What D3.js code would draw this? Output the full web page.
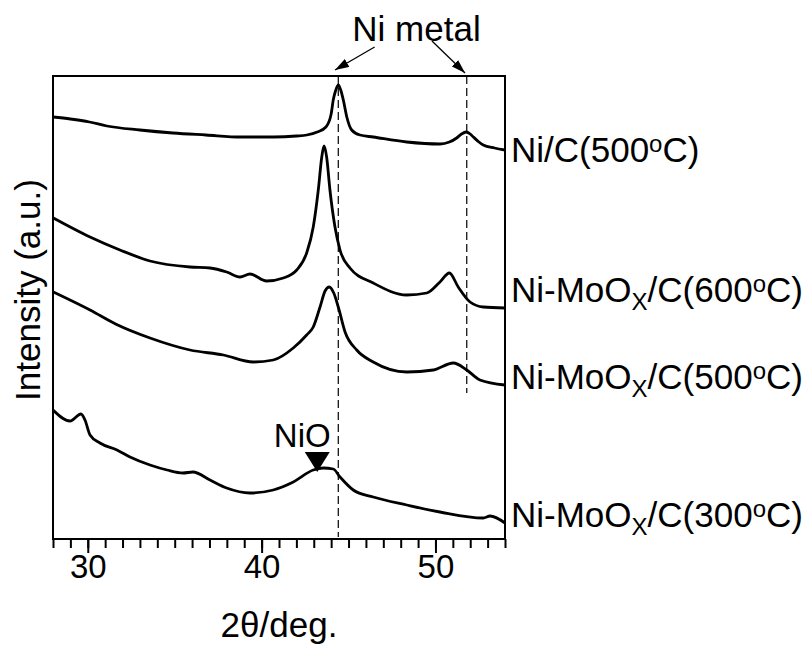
<!DOCTYPE html>
<html>
<head>
<meta charset="utf-8">
<script src="https://cdn.jsdelivr.net/npm/d3@7"></script>
<style>
  html, body { margin: 0; padding: 0; background: #fff; }
  svg { display: block; }
  text { font-family: "Liberation Sans", Arial, Helvetica, sans-serif; fill: #000; }
</style>
</head>
<body>
<svg id="chart" width="812" height="645"></svg>
<script>
// ---- data (2θ in degrees, intensity in arbitrary units) ----
const xDomain = [28, 54];
const yDomain = [0, 463];
const majorTicks = [30, 40, 50];
const minorTicks = d3.range(28, 55, 1);

const seriesNames = ["Ni/C(500°C)", "Ni-MoOX/C(600°C)", "Ni-MoOX/C(500°C)", "Ni-MoOX/C(300°C)"];

const niC500 = [
  [28.0, 422], [29.0, 420], [30.1, 417], [31.1, 413], [33.0, 409], [34.9, 406], [36.8, 404], [38.8, 402],
  [40.7, 402], [42.0, 403], [42.6, 404], [43.2, 407], [43.7, 412], [44.0, 425], [44.12, 439],
  [44.25, 448], [44.41, 454], [44.55, 449], [44.7, 439], [44.9, 422], [45.18, 409], [45.66, 404],
  [46.42, 402], [48.35, 397], [50.26, 395], [50.8, 397], [51.22, 401], [51.5, 405], [51.76, 407],
  [52.0, 405], [52.18, 402], [52.5, 397], [52.75, 394], [53.4, 391], [54.0, 389]
];
const niMo600 = [
  [28.02, 321], [30.13, 302], [31.85, 289], [33.58, 278], [35.88, 272], [37.03, 271], [37.99, 267],
  [38.76, 262], [39.33, 265], [40.29, 258], [41.25, 261], [42.02, 269], [42.59, 286], [42.97, 312],
  [43.26, 349], [43.46, 382], [43.59, 393], [43.74, 382], [43.93, 349], [44.22, 312], [44.51, 289],
  [45.08, 271], [46.42, 256], [48.35, 244], [49.5, 246], [50.26, 257], [50.8, 266], [51.31, 252],
  [51.99, 237], [52.75, 232], [54.0, 231]
];
const niMo500 = [
  [28.02, 247], [30.13, 229], [31.6, 215], [33.58, 201], [35.88, 189], [37.8, 184],
  [39.52, 177], [40.67, 179], [41.82, 191], [42.59, 204], [42.97, 212], [43.36, 232], [43.65, 248],
  [43.89, 252], [44.15, 246], [44.41, 232], [44.8, 207], [45.47, 189], [46.42, 177], [48.35, 167],
  [49.88, 169], [51.03, 176], [51.8, 169], [52.56, 159], [54.0, 154]
];
const niMo300 = [
  [28.0, 129], [28.98, 118], [29.61, 125], [29.84, 119], [30.13, 104], [30.7, 96], [31.68, 89],
  [32.43, 82], [33.58, 74], [34.56, 69], [35.48, 66], [36.05, 67], [37.03, 59], [37.99, 51],
  [39.33, 46], [40.67, 49], [41.82, 57], [42.97, 69], [43.55, 71], [44.12, 70], [44.51, 62],
  [45.27, 49], [46.42, 42], [48.35, 34], [50.26, 27], [52.75, 21], [53.14, 23], [54.0, 16]
];
const seriesData = [niC500, niMo600, niMo500, niMo300];

const niMetalPeaks = [44.41, 51.80];
const niMetalLineTop = [463, 463];
const niMetalLineBottom = [2, 146];
const nioPeak = 43.2;
const nioValue = 67;

// ---- layout ----
const margin = { left: 53, top: 76, right: 307, bottom: 106 };
const W = 812, H = 645;
const pw = W - margin.left - margin.right;
const ph = H - margin.top - margin.bottom;

const svg = d3.select("#chart");
const g = svg.append("g").attr("transform", `translate(${margin.left},${margin.top})`);

const x = d3.scaleLinear().domain(xDomain).range([0, pw]);
const y = d3.scaleLinear().domain(yDomain).range([ph, 0]);

// dashed Ni metal reference lines
g.selectAll("line.ref").data(niMetalPeaks).enter().append("line")
  .attr("class", "ref")
  .attr("x1", d => x(d)).attr("x2", d => x(d))
  .attr("y1", (d, i) => y(niMetalLineTop[i])).attr("y2", (d, i) => y(niMetalLineBottom[i]))
  .attr("stroke", "#000").attr("stroke-width", 1.2).attr("stroke-dasharray", "8,4");

// curves
const line = d3.line().x(d => x(d[0])).y(d => y(d[1])).curve(d3.curveMonotoneX);
g.selectAll("path.curve").data(seriesData).enter().append("path")
  .attr("class", "curve")
  .attr("d", line)
  .attr("fill", "none").attr("stroke", "#000").attr("stroke-width", 2.8)
  .attr("stroke-linejoin", "round");

// frame
g.append("rect").attr("x", 0).attr("y", 0).attr("width", pw).attr("height", ph)
  .attr("fill", "none").attr("stroke", "#000").attr("stroke-width", 2);

// bottom axis
const axisG = g.append("g").attr("transform", `translate(0,${ph})`);
axisG.call(d3.axisBottom(x).tickValues(minorTicks).tickSize(9).tickFormat(""))
  .call(a => a.select(".domain").remove())
  .call(a => a.selectAll("line").attr("stroke-width", 2));
const majorG = g.append("g").attr("transform", `translate(0,${ph})`);
majorG.call(d3.axisBottom(x).tickValues(majorTicks).tickSize(14).tickPadding(6).tickFormat(d3.format("d")))
  .call(a => a.select(".domain").remove())
  .call(a => a.selectAll("line").attr("stroke-width", 2))
  .call(a => a.selectAll("text").attr("font-size", 33).attr("dy", null).attr("y", 39)
    .attr("font-family", "Liberation Sans, Arial, sans-serif").attr("fill", "#000"));

// axis titles
svg.append("text").attr("x", margin.left + pw / 2).attr("y", 637)
  .attr("text-anchor", "middle").attr("font-size", 35).text("2θ/deg.");
svg.append("text").attr("transform", `translate(40,${290}) rotate(-90)`)
  .attr("text-anchor", "middle").attr("font-size", 35).text("Intensity (a.u.)");

// series labels
const labelBaselines = [162, 302, 389, 527];
seriesNames.forEach((name, i) => {
  const t = svg.append("text").attr("x", margin.left + pw + 6).attr("y", labelBaselines[i])
    .attr("font-size", 35);
  const m = name.match(/^(.*?)(X?)(\/C\(\d+)°(C\))$/);
  if (m[2]) {
    t.append("tspan").text(m[1]);
    t.append("tspan").attr("font-size", 24).attr("dy", 8).text("X");
    t.append("tspan").attr("dy", -8).text(m[3]);
  } else {
    t.append("tspan").text(m[1] + m[3]);
  }
  t.append("tspan").attr("font-size", 24).attr("dy", -10).text("o");
  t.append("tspan").attr("dy", 10).text(m[4]);
});

// Ni metal annotation
svg.append("defs").append("marker").attr("id", "ah")
  .attr("viewBox", "0 0 14 9").attr("refX", 14).attr("refY", 4.5)
  .attr("markerWidth", 14).attr("markerHeight", 9).attr("markerUnits", "userSpaceOnUse")
  .attr("orient", "auto")
  .append("path").attr("d", "M0,0 L14,4.5 L0,9 Z").attr("fill", "#000");

const textX = margin.left + (x(niMetalPeaks[0]) + x(niMetalPeaks[1])) / 2;
svg.append("text").attr("x", textX + 14).attr("y", 41)
  .attr("text-anchor", "middle").attr("font-size", 35).text("Ni metal");
const arrows = [
  { from: [x(46.5), -29], to: [x(44.22), -6] },
  { from: [x(49.8), -35], to: [x(51.7), -3] }
];
arrows.forEach(a => {
  g.append("line").attr("x1", a.from[0]).attr("y1", a.from[1]).attr("x2", a.to[0]).attr("y2", a.to[1])
    .attr("stroke", "#000").attr("stroke-width", 1.3).attr("marker-end", "url(#ah)");
});

// NiO marker
const triX = x(nioPeak), triY = y(nioValue);
g.append("path")
  .attr("d", `M${triX - 12.5},${triY - 20} L${triX + 12.5},${triY - 20} L${triX},${triY} Z`)
  .attr("fill", "#000");
g.append("text").attr("x", triX - 15).attr("y", triY - 25)
  .attr("text-anchor", "middle").attr("font-size", 33).text("NiO");
</script>
</body>
</html>
